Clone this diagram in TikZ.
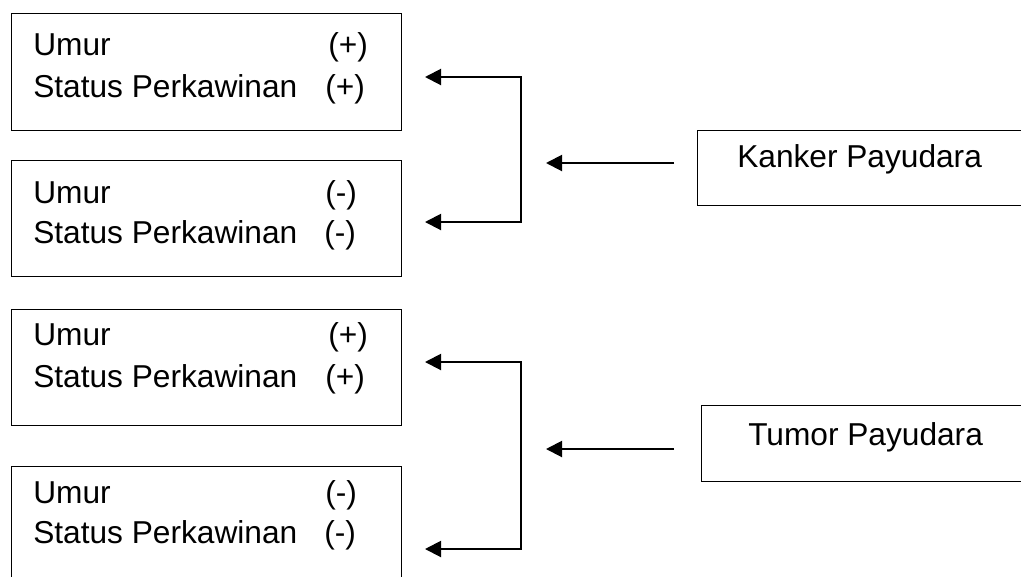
\documentclass[tikz,border=0pt]{standalone}
\usepackage{fontspec}
\setmainfont{Liberation Sans}
\usetikzlibrary{arrows.meta}
\begin{document}
\begin{tikzpicture}[x=0.75pt,y=-0.75pt,
  box/.style={draw,line width=1pt,inner sep=0pt,anchor=north west},
  txt/.style={anchor=base west,inner sep=0pt,font=\fontsize{23.75pt}{28pt}\selectfont},
  arr/.style={line width=1.5pt,{Triangle[length=12pt,width=12pt]}-{Triangle[length=12pt,width=12pt]}},
  arr1/.style={line width=1.5pt,-{Triangle[length=12pt,width=12pt]}}]
\useasboundingbox (0,0) rectangle (1021,576);
\clip (0,0) rectangle (1021,576);
% left boxes
\node[box,minimum width=292.5pt,minimum height=87.75pt] (b1) at (11,13) {};
\node[box,minimum width=292.5pt,minimum height=87pt] (b2) at (11,160) {};
\node[box,minimum width=292.5pt,minimum height=87pt] (b3) at (11,309) {};
\node[box,minimum width=292.5pt,minimum height=100pt] (b4) at (11,466) {};
% right boxes
\node[box,minimum width=260pt,minimum height=56.25pt] (k) at (697,130) {};
\node[box,minimum width=260pt,minimum height=57pt] (t) at (701,405) {};
% texts
\node[txt] (u1) at (33,55) {Umur};
\node[txt] (p1) at (328,55) {(+)};
\node[txt] (s1) at (33,97) {Status Perkawinan};
\node[txt] (q1) at (325,97) {(+)};
\node[txt] (u2) at (33,203) {Umur};
\node[txt] (p2) at (325,203) {(-)};
\node[txt] (s2) at (33,243) {Status Perkawinan};
\node[txt] (q2) at (324,243) {(-)};
\node[txt] (u3) at (33,345) {Umur};
\node[txt] (p3) at (328,345) {(+)};
\node[txt] (s3) at (33,387) {Status Perkawinan};
\node[txt] (q3) at (325,387) {(+)};
\node[txt] (u4) at (33,503) {Umur};
\node[txt] (p4) at (325,503) {(-)};
\node[txt] (s4) at (33,543) {Status Perkawinan};
\node[txt] (q4) at (324,543) {(-)};
\node[txt] (kt) at (737,167) {Kanker Payudara};
\node[txt] (tt) at (748,445) {Tumor Payudara};
% connectors
\coordinate (a1) at (425,77);
\coordinate (j1) at (521,77);
\coordinate (j2) at (521,222);
\coordinate (a2) at (425,222);
\coordinate (m1s) at (674,163);
\coordinate (m1e) at (546,163);
\draw[arr] (a1) -- (j1) -- (j2) -- (a2);
\draw[arr1] (m1s) -- (m1e);
\coordinate (a3) at (425,362);
\coordinate (j3) at (521,362);
\coordinate (j4) at (521,549);
\coordinate (a4) at (425,549);
\coordinate (m2s) at (674,449);
\coordinate (m2e) at (546,449);
\draw[arr] (a3) -- (j3) -- (j4) -- (a4);
\draw[arr1] (m2s) -- (m2e);
\end{tikzpicture}
\end{document}
